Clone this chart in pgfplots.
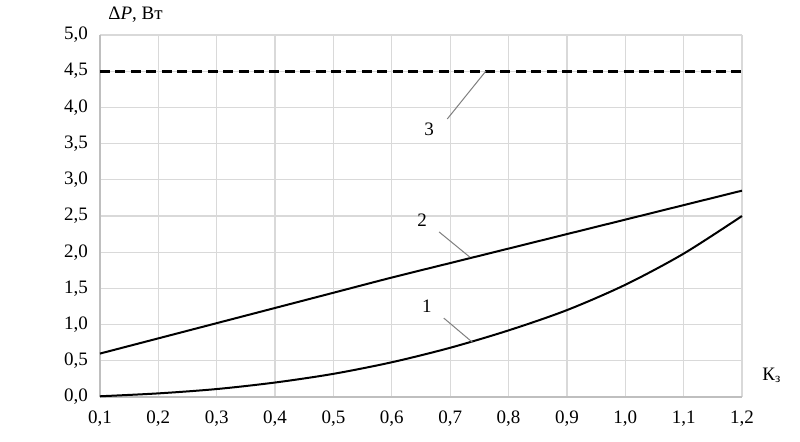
\documentclass[border=0pt]{standalone}
\usepackage{pgfplots}
\pgfplotsset{compat=1.18}
\usepackage{fontspec}
\setmainfont{Liberation Serif}
\definecolor{gridGray}{HTML}{D9D9D9}
\definecolor{axisGray}{HTML}{BFBFBF}
\definecolor{leadGray}{HTML}{7F7F7F}

\begin{document}
\begin{tikzpicture}
  \begin{axis}[
    name=ax,
    scale only axis,
    width=321pt,
    height=181pt,
    xmin=0.1, xmax=1.2,
    ymin=0, ymax=5,
    xtick={0.1,0.2,...,1.21},
    ytick={0,0.5,...,5.01},
    axis lines=left,
    axis line style={draw=axisGray, line width=0.6pt, -},
    major tick length=0pt,
    grid=major,
    major grid style={draw=gridGray, line width=0.6pt},
    /pgf/number format/.cd, fixed, fixed zerofill, precision=1, use comma, assume math mode=true,
    /pgfplots/.cd,
    tick label style={font=\fontsize{9.5}{11}\selectfont, text=black},
    xticklabel style={yshift=-3.5pt},
    yticklabel style={xshift=-2.5pt},
    clip=false,
  ]
    % curve 1
    \addplot[black, line width=1pt, smooth] coordinates {
      (0.1,0.01) (0.2,0.05) (0.3,0.11) (0.4,0.20) (0.5,0.32) (0.6,0.48)
      (0.7,0.68) (0.8,0.92) (0.9,1.20) (1.0,1.55) (1.1,1.98) (1.2,2.50)};
    % curve 2
    \addplot[black, line width=1pt, smooth] coordinates {
      (0.1,0.60) (0.2,0.81) (0.3,1.02) (0.4,1.23) (0.5,1.44) (0.6,1.65)
      (0.7,1.85) (0.8,2.05) (0.9,2.25) (1.0,2.45) (1.1,2.65) (1.2,2.85)};
    % curve 3
    \addplot[black, line width=1.5pt, dash pattern=on 5pt off 2.7pt] coordinates {
      (0.1,4.5) (1.2,4.5)};

    \draw[leadGray, line width=0.5pt] (axis cs:0.695,3.84) -- (axis cs:0.761,4.50);
    \draw[leadGray, line width=0.5pt] (axis cs:0.681,2.28) -- (axis cs:0.734,1.93);
    \draw[leadGray, line width=0.5pt] (axis cs:0.689,1.09) -- (axis cs:0.739,0.75);
    \node[font=\fontsize{9.5}{11}\selectfont] at (axis cs:0.664,3.70) {3};
    \node[font=\fontsize{9.5}{11}\selectfont] at (axis cs:0.652,2.44) {2};
    \node[font=\fontsize{9.5}{11}\selectfont] at (axis cs:0.660,1.26) {1};

    \node[anchor=west, font=\fontsize{9.5}{11}\selectfont, inner sep=0pt]
      at ([shift={(4pt,10pt)}]rel axis cs:0,1) {Δ\textit{P}, Вт};
    \node[anchor=west, font=\fontsize{9.5}{11}\selectfont, inner sep=0pt]
      at ([shift={(10pt,11pt)}]rel axis cs:1,0) {К\textsubscript{з}};
  \end{axis}
  \pgfresetboundingbox
  \path ([shift={(-50pt,-22pt)}]ax.south west) rectangle ([shift={(29pt,17.5pt)}]ax.north east);
\end{tikzpicture}
\end{document}
